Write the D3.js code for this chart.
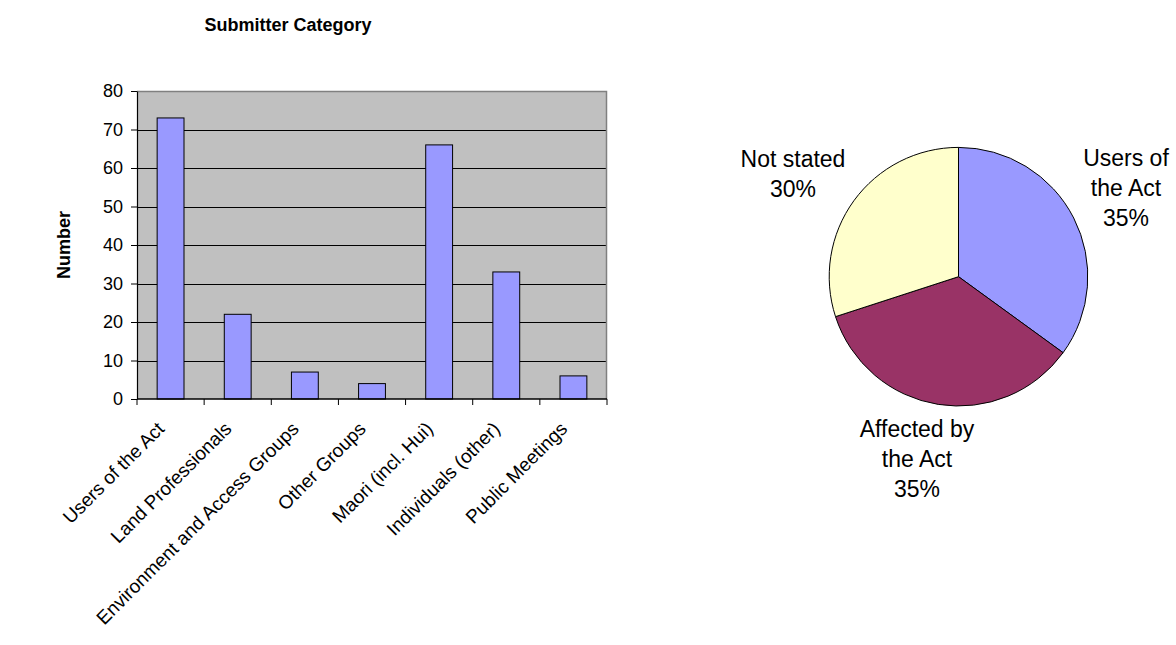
<!DOCTYPE html>
<html>
<head>
<meta charset="utf-8">
<script src="https://cdn.jsdelivr.net/npm/d3@7"></script>
<style>
  html, body { margin: 0; padding: 0; background: #ffffff; }
  svg { display: block; font-family: "Liberation Sans", Arial, sans-serif; }
</style>
</head>
<body>
<svg id="chart" width="1176" height="645"></svg>
<script>
// Submitter categories and counts (column chart)
const categories = [
  "Users of the Act",
  "Land Professionals",
  "Environment and Access Groups",
  "Other Groups",
  "Maori (incl. Hui)",
  "Individuals (other)",
  "Public Meetings"
];
const counts = [73, 22, 7, 4, 66, 33, 6];
const yTicks = [0, 10, 20, 30, 40, 50, 60, 70, 80];

// Share of submissions by relationship to the Act (pie chart)
const pieGroups = ["Users of the Act", "Affected by the Act", "Not stated"];
const pieShares = [35, 35, 30];
const pieLabelLines = [["Users of", "the Act"], ["Affected by", "the Act"], ["Not stated"]];
const pieColors = ["#9999ff", "#993366", "#ffffcc"];

const svg = d3.select("#chart");

// ---------- Column chart ----------
const plot = { left: 137, right: 607, top: 91, bottom: 399 };

const x = d3.scaleBand()
  .domain(categories)
  .range([plot.left, plot.right])
  .paddingInner(0.6)
  .paddingOuter(0.3);

const xBands = d3.scaleBand()
  .domain(categories)
  .range([plot.left, plot.right]);

const y = d3.scaleLinear()
  .domain([0, 80])
  .range([plot.bottom, plot.top]);

// plot area background
svg.append("rect")
  .attr("x", plot.left).attr("y", plot.top)
  .attr("width", plot.right - plot.left)
  .attr("height", plot.bottom - plot.top)
  .attr("fill", "#c0c0c0");

// horizontal gridlines
svg.append("g")
  .selectAll("line")
  .data(yTicks.filter(t => t > 0 && t < 80))
  .join("line")
  .attr("x1", plot.left).attr("x2", plot.right)
  .attr("y1", d => Math.round(y(d)) + 0.5)
  .attr("y2", d => Math.round(y(d)) + 0.5)
  .attr("stroke", "#000")
  .attr("stroke-width", 1);

// plot area border (top and right)
svg.append("path")
  .attr("d", `M${plot.left},${plot.top + 0.5}H${plot.right - 0.5}V${plot.bottom}`)
  .attr("fill", "none")
  .attr("stroke", "#808080")
  .attr("stroke-width", 1.5);

// bars
svg.append("g")
  .selectAll("rect")
  .data(counts)
  .join("rect")
  .attr("x", (d, i) => x(categories[i]))
  .attr("y", d => y(d))
  .attr("width", x.bandwidth())
  .attr("height", d => y(0) - y(d))
  .attr("fill", "#9999ff")
  .attr("stroke", "#000")
  .attr("stroke-width", 1);

// y axis
const yAxis = d3.axisLeft(y)
  .tickValues(yTicks)
  .tickSize(6)
  .tickSizeOuter(0)
  .tickPadding(8);

const gy = svg.append("g")
  .attr("transform", `translate(${plot.left},0)`)
  .call(yAxis);
gy.select(".domain").attr("stroke", "#000").attr("stroke-width", 1.2);
gy.selectAll(".tick line").attr("stroke", "#000");
gy.selectAll(".tick text")
  .attr("font-size", 18)
  .attr("font-family", "Liberation Sans, Arial, sans-serif")
  .attr("fill", "#000");

// x axis line and boundary ticks
const boundaries = categories.map(c => xBands(c)).concat([plot.right]);
svg.append("line")
  .attr("x1", plot.left).attr("x2", plot.right)
  .attr("y1", plot.bottom).attr("y2", plot.bottom)
  .attr("stroke", "#000").attr("stroke-width", 1.5);
svg.append("g")
  .selectAll("line")
  .data(boundaries)
  .join("line")
  .attr("x1", d => d).attr("x2", d => d)
  .attr("y1", plot.bottom).attr("y2", plot.bottom + 6)
  .attr("stroke", "#000");

// rotated category labels
svg.append("g")
  .selectAll("text")
  .data(categories)
  .join("text")
  .attr("transform", d => `translate(${xBands(d) + xBands.bandwidth() / 2 - 5},${plot.bottom + 31}) rotate(-45)`)
  .attr("text-anchor", "end")
  .attr("font-size", 19)
  .attr("fill", "#000")
  .text(d => d);

// titles
svg.append("text")
  .attr("x", 288).attr("y", 31)
  .attr("text-anchor", "middle")
  .attr("font-size", 18)
  .attr("font-weight", "bold")
  .text("Submitter Category");

svg.append("text")
  .attr("transform", `translate(${70},${245}) rotate(-90)`)
  .attr("text-anchor", "middle")
  .attr("font-size", 18)
  .attr("font-weight", "bold")
  .text("Number");

// ---------- Pie chart ----------
const cx = 958.5, cy = 276.7, r = 129.3;

const pie = d3.pie().sort(null).value(d => d)(pieShares);
const arc = d3.arc().innerRadius(0).outerRadius(r);

const gp = svg.append("g").attr("transform", `translate(${cx},${cy})`);
gp.selectAll("path")
  .data(pie)
  .join("path")
  .attr("d", arc)
  .attr("fill", (d, i) => pieColors[i])
  .attr("stroke", "#000")
  .attr("stroke-width", 1);

// pie labels placed beside each slice
const labelPos = [
  { x: 1126, y: 166 },
  { x: 917, y: 437 },
  { x: 793, y: 167 }
];
const lineHeight = 30;
pie.forEach((p, i) => {
  const lines = pieLabelLines[i].concat([`${pieShares[i]}%`]);
  const t = svg.append("text")
    .attr("text-anchor", "middle")
    .attr("font-size", 23)
    .attr("fill", "#000");
  lines.forEach((ln, k) => {
    t.append("tspan")
      .attr("x", labelPos[i].x)
      .attr("y", labelPos[i].y + k * lineHeight)
      .text(ln);
  });
});
</script>
</body>
</html>
